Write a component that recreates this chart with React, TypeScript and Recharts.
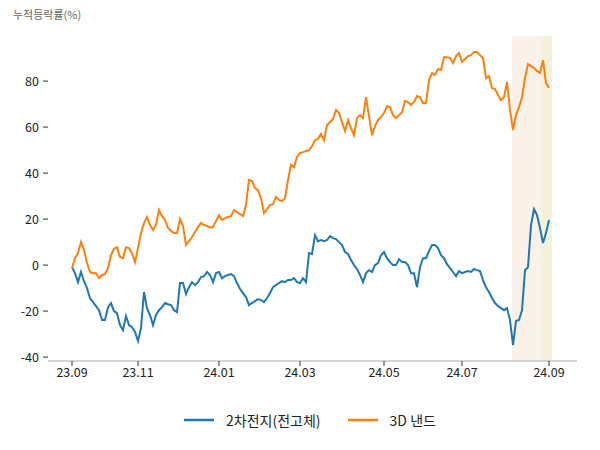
import { LineChart, Line, XAxis, YAxis, ReferenceArea, Legend } from "recharts";

// x is a trading-day index; ticks sit on the first session of each labelled month
const tickIndex = [0, 22, 49, 76, 104, 130, 159];
const tickLabels = ["23.09", "23.11", "24.01", "24.03", "24.05", "24.07", "24.09"];
const yTicks = [-40, -20, 0, 20, 40, 60, 80];

// 2차전지(전고체) cumulative return (%)
const battery = [
  -0.9, -3.5, -7.4, -3.0, -7.0, -10.0, -14.3, -16.1, -17.8, -19.6,
  -23.9, -23.9, -18.3, -16.5, -20.0, -20.9, -26.1, -28.3, -22.2, -26.1,
  -27.0, -29.1, -33.0, -27.4, -11.7, -18.7, -21.7, -26.1, -21.7, -19.6,
  -18.3, -16.5, -17.0, -17.4, -19.6, -20.4, -7.8, -7.8, -12.6, -9.6,
  -7.4, -8.7, -7.4, -5.2, -4.8, -3.0, -4.3, -7.4, -3.5, -3.0,
  -5.7, -4.8, -4.3, -3.9, -4.8, -7.8, -10.4, -12.2, -13.9, -17.4,
  -16.5, -15.7, -14.8, -15.2, -16.1, -14.3, -12.2, -9.6, -8.7, -7.8,
  -7.0, -7.4, -6.5, -6.5, -5.7, -7.4, -7.8, -5.7, -7.4, 5.2,
  4.8, 13.0, 10.4, 10.9, 10.4, 10.9, 12.6, 11.7, 11.3, 10.0,
  8.7, 5.7, 4.8, 2.2, 0.0, -1.7, -4.3, -7.4, -3.5, -2.2,
  -3.0, 0.0, 0.9, 4.3, 5.7, 3.0, 1.3, 0.0, 0.0, 2.6,
  1.3, 1.3, 0.0, -3.5, -3.5, -9.6, -0.9, 3.0, 3.0, 6.1,
  8.7, 8.7, 7.4, 4.3, 3.0, 0.4, -1.3, -3.0, -4.8, -2.6,
  -3.5, -3.0, -2.6, -3.0, -1.7, -2.2, -2.6, -6.5, -9.6, -11.7,
  -14.3, -16.5, -17.8, -18.7, -19.6, -18.7, -23.9, -34.8, -24.3, -23.9,
  -19.6, -2.2, -0.9, 17.4, 24.3, 21.7, 16.1, 9.6, 13.9, 19.6,
];

// 3D 낸드 cumulative return (%)
const nand = [
  -1.3, 3.0, 5.2, 10.0, 6.5, 0.9, -3.0, -3.5, -3.5, -5.7,
  -4.3, -3.9, -1.3, 4.3, 7.0, 7.8, 3.5, 3.0, 7.8, 7.4,
  5.2, 1.3, 7.4, 13.9, 18.3, 20.9, 17.4, 15.2, 17.4, 23.9,
  21.3, 19.6, 16.1, 14.8, 13.9, 13.9, 20.0, 17.0, 8.7, 10.4,
  12.2, 14.3, 16.5, 18.3, 17.4, 17.0, 16.5, 16.5, 19.1, 21.7,
  19.6, 20.4, 20.9, 21.3, 23.9, 23.0, 22.2, 21.3, 26.1, 37.0,
  36.5, 33.5, 32.6, 29.1, 22.6, 24.3, 26.1, 26.5, 29.6, 28.3,
  27.8, 29.1, 37.0, 43.5, 42.6, 47.0, 48.7, 49.1, 49.6, 50.0,
  51.7, 54.3, 54.8, 57.0, 54.3, 60.9, 62.2, 63.5, 67.4, 66.1,
  62.2, 58.3, 63.0, 59.6, 56.5, 63.9, 65.2, 63.9, 73.0, 64.8,
  56.5, 60.4, 63.0, 64.3, 66.1, 69.1, 68.7, 65.2, 63.9, 65.2,
  66.5, 71.3, 70.9, 69.6, 70.9, 73.5, 73.0, 70.4, 70.4, 80.4,
  83.5, 82.6, 85.2, 84.8, 90.4, 90.4, 90.0, 87.8, 90.9, 92.2,
  88.3, 89.6, 90.9, 91.3, 92.6, 92.6, 91.3, 90.0, 81.3, 82.2,
  77.0, 76.5, 73.9, 71.7, 73.0, 79.6, 67.4, 58.7, 65.2, 68.7,
  73.0, 81.3, 87.4, 86.5, 85.7, 84.3, 83.5, 89.1, 79.1, 77.0,
];

// highlighted periods, in index units
const shades = [
  { x1: 146.7, x2: 156.7, fill: "#faf1e8" },
  { x1: 156.7, x2: 160, fill: "#f4f1da" },
];

const data = battery.map((v, i) => ({ i, battery: v, nand: nand[i] }));

const font = "'Noto Sans CJK KR', 'Noto Sans', sans-serif";

const renderLegend = (props: any) => (
  <div
    style={{
      display: "flex",
      justifyContent: "center",
      alignItems: "center",
      gap: 27,
      paddingLeft: 20,
      fontSize: 14,
      color: "#222",
      fontFamily: font,
    }}
  >
    {props.payload.map((p: any) => (
      <div key={p.value} style={{ display: "flex", alignItems: "center" }}>
        <svg width={30} height={4}>
          <line x1={0} y1={2} x2={30} y2={2} stroke={p.color} strokeWidth={2.5} />
        </svg>
        <span style={{ marginLeft: 12 }}>{p.value}</span>
      </div>
    ))}
  </div>
);

export default function App() {
  return (
    <div style={{ position: "absolute", left: 0, top: 0, width: 600, height: 450, background: "#fff", fontFamily: font }}>
      <div style={{ position: "absolute", left: 13, top: 6, fontSize: 11, color: "#666" }}>누적등락률(%)</div>
      <LineChart width={600} height={450} data={data} margin={{ top: 36, right: 23, left: 0, bottom: 35 }}>
        {shades.map((s) => (
          <ReferenceArea key={s.x1} x1={s.x1} x2={s.x2} fill={s.fill} fillOpacity={1} stroke="none" />
        ))}
        <XAxis
          dataKey="i"
          type="number"
          domain={[-8, 168.33]}
          ticks={tickIndex}
          tickFormatter={(v) => tickLabels[tickIndex.indexOf(v)] ?? ""}
          stroke="#aaa"
          tick={{ fill: "#222", fontSize: 12.5 }}
          tickLine={{ stroke: "#333" }}
          tickSize={5}
          allowDataOverflow
        />
        <YAxis
          type="number"
          domain={[-41.7, 99.6]}
          ticks={yTicks}
          width={48}
          axisLine={false}
          tick={{ fill: "#222", fontSize: 12.5 }}
          tickLine={{ stroke: "#333" }}
          tickSize={5}
          tickMargin={4}
          allowDataOverflow
        />
        <Legend height={24} wrapperStyle={{ top: 410, left: 0, width: 600 }} content={renderLegend} />
        <Line type="linear" dataKey="battery" name="2차전지(전고체)" stroke="#1f77b4" strokeWidth={2} dot={false} isAnimationActive={false} />
        <Line type="linear" dataKey="nand" name="3D 낸드" stroke="#ff7f0e" strokeWidth={2} dot={false} isAnimationActive={false} />
      </LineChart>
    </div>
  );
}
